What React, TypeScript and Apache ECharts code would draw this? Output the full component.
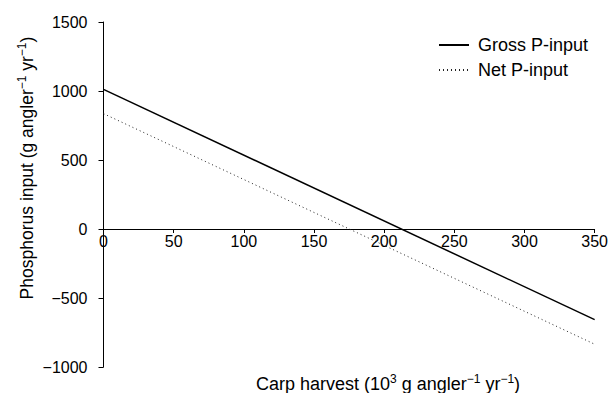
import React, { useEffect, useRef } from "react";
import * as echarts from "echarts";

const harvest = [0, 350];
const grossInput = [1012, -657];
const netInput = [836, -835];
const yRange = [-1000, 1500];
const seriesNames = ["Gross P-input", "Net P-input"];

const FONT = "'Liberation Sans', Arial, Helvetica, sans-serif";
const GRID_TOP = 22;
const GRID_BOTTOM = 26;
const HEIGHT = 393;

export default function App() {
  const ref = useRef<HTMLDivElement>(null);
  useEffect(() => {
    if (!ref.current) return;
    const chart = echarts.init(ref.current, undefined, { renderer: "svg" });
    const fmt = (v: number) => (v < 0 ? "\u2212" + Math.abs(v) : String(v));
    const plotH = HEIGHT - GRID_TOP - GRID_BOTTOM;
    const zeroOffset = (plotH * (0 - yRange[0])) / (yRange[1] - yRange[0]);
    const rich = (size: number) => ({
      b: { fontSize: size, fontFamily: FONT, fill: "#000", color: "#000", lineHeight: 22 },
      s: { fontSize: Math.round(size * 0.68), fontFamily: FONT, fill: "#000", color: "#000", lineHeight: 12, verticalAlign: "top" },
    });
    chart.setOption({
      animation: false,
      textStyle: { fontFamily: FONT },
      grid: { left: 103.5, right: 14, top: GRID_TOP, bottom: GRID_BOTTOM },
      legend: {
        orient: "vertical",
        left: 433,
        top: 31,
        itemWidth: 30,
        itemHeight: 10,
        itemGap: 7,
        itemStyle: { opacity: 0 },
        textStyle: { fontFamily: FONT, fontSize: 18, color: "#000", padding: [0, 0, 0, 4] },
        data: seriesNames,
      },
      xAxis: {
        type: "value",
        min: 0,
        max: 350,
        interval: 50,
        offset: -zeroOffset,
        axisLine: { onZero: false, lineStyle: { color: "#000", width: 1 } },
        axisTick: { show: true, inside: false, length: 4, lineStyle: { color: "#000" } },
        axisLabel: { color: "#000", fontSize: 16, fontFamily: FONT, margin: 4, formatter: fmt },
        splitLine: { show: false },
      },
      yAxis: {
        type: "value",
        min: yRange[0],
        max: yRange[1],
        interval: 500,
        axisLine: { show: true, lineStyle: { color: "#000", width: 1 } },
        axisTick: { show: true, length: 5, lineStyle: { color: "#000" } },
        axisLabel: { color: "#000", fontSize: 16, fontFamily: FONT, margin: 16, formatter: fmt },
        splitLine: { show: false },
      },
      graphic: [
        {
          type: "text",
          x: 27,
          y: 168,
          rotation: Math.PI / 2,
          style: {
            text: "{b|Phosphorus input (g angler}{s|\u22121}{b| yr}{s|\u22121}{b|)}",
            align: "center",
            verticalAlign: "middle",
            rich: rich(17.5),
          },
        },
        {
          type: "text",
          x: 388,
          y: 384,
          style: {
            text: "{b|Carp harvest (10}{s|3}{b| g angler}{s|\u22121}{b| yr}{s|\u22121}{b|)}",
            align: "center",
            verticalAlign: "middle",
            rich: rich(18),
          },
        },
      ],
      series: [
        {
          name: seriesNames[0],
          type: "line",
          symbol: "none",
          data: harvest.map((x, i) => [x, grossInput[i]]),
          lineStyle: { color: "#000", width: 1.5, type: "solid" },
          itemStyle: { color: "#000" },
        },
        {
          name: seriesNames[1],
          type: "line",
          symbol: "none",
          data: harvest.map((x, i) => [x, netInput[i]]),
          lineStyle: { color: "#222", width: 1, type: [1, 3] },
          itemStyle: { color: "#222" },
        },
      ],
    });
    return () => chart.dispose();
  }, []);
  return <div ref={ref} style={{ width: 611, height: 393, position: "absolute", left: 0, top: 0 }} />;
}
